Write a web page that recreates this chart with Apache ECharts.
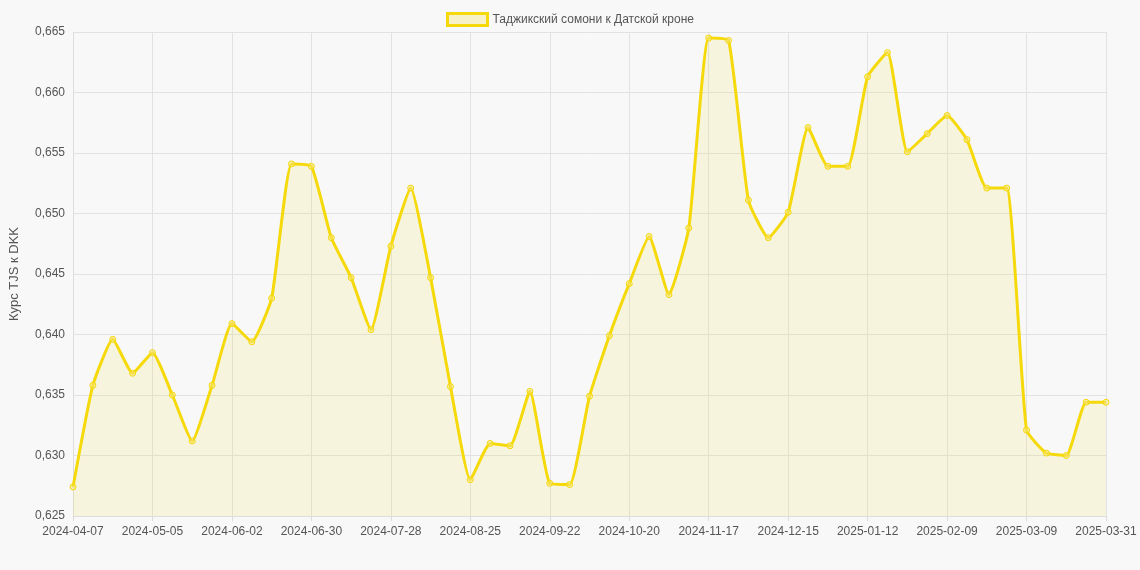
<!DOCTYPE html>
<html>
<head>
<meta charset="utf-8">
<script src="https://cdn.jsdelivr.net/npm/echarts@6/dist/echarts.min.js"></script>
<style>
  html, body { margin: 0; padding: 0; background: #f8f8f8; }
  #chart { width: 1140px; height: 570px; }
</style>
</head>
<body>
<div id="chart"></div>
<script>
const dates = [
  '2024-04-07','2024-04-14','2024-04-21','2024-04-28','2024-05-05','2024-05-12','2024-05-19','2024-05-26',
  '2024-06-02','2024-06-09','2024-06-16','2024-06-23','2024-06-30','2024-07-07','2024-07-14','2024-07-21',
  '2024-07-28','2024-08-04','2024-08-11','2024-08-18','2024-08-25','2024-09-01','2024-09-08','2024-09-15',
  '2024-09-22','2024-09-29','2024-10-06','2024-10-13','2024-10-20','2024-10-27','2024-11-03','2024-11-10',
  '2024-11-17','2024-11-24','2024-12-01','2024-12-08','2024-12-15','2024-12-22','2024-12-29','2025-01-05',
  '2025-01-12','2025-01-19','2025-01-26','2025-02-02','2025-02-09','2025-02-16','2025-02-23','2025-03-02',
  '2025-03-09','2025-03-16','2025-03-23','2025-03-30','2025-03-31'
];
const rates = [
  0.6274, 0.6358, 0.6396, 0.6368, 0.6385, 0.6350, 0.6312, 0.6358,
  0.6409, 0.6394, 0.6430, 0.6541, 0.6539, 0.6480, 0.6447, 0.6404,
  0.6473, 0.6521, 0.6447, 0.6357, 0.6280, 0.6310, 0.6308, 0.6353,
  0.6277, 0.6276, 0.6349, 0.6399, 0.6442, 0.6481, 0.6433, 0.6488,
  0.6645, 0.6643, 0.6511, 0.6480, 0.6501, 0.6571, 0.6539, 0.6539,
  0.6613, 0.6633, 0.6551, 0.6566, 0.6581, 0.6561, 0.6521, 0.6521,
  0.6321, 0.6302, 0.6300, 0.6344, 0.6344
];
const seriesName = 'Таджикский сомони к Датской кроне';

const chart = echarts.init(document.getElementById('chart'));
chart.setOption({
  backgroundColor: '#f8f8f8',
  animation: false,
  textStyle: { fontFamily: 'Liberation Sans, Arial, sans-serif' },
  legend: {
    top: 7,
    itemWidth: 40, itemHeight: 12,
    textStyle: { color: '#555', fontSize: 12 },
    data: [{ name: seriesName, icon: 'rect',
      itemStyle: { color: 'rgba(245,217,10,0.2)', borderColor: '#f5d90a', borderWidth: 3 } }]
  },
  grid: { left: 68, right: 34, top: 32, bottom: 54, containLabel: false },
  xAxis: {
    type: 'category',
    data: dates,
    boundaryGap: false,
    axisLine: { lineStyle: { color: '#ddd' } },
    axisTick: { show: true, interval: 3, lineStyle: { color: '#ddd' } },
    axisLabel: { interval: 3, color: '#555', fontSize: 12, margin: 10 },
    splitLine: { show: true, interval: 3, lineStyle: { color: '#e2e2e2' } }
  },
  yAxis: {
    type: 'value',
    min: 0.625, max: 0.665, interval: 0.005,
    name: 'Курс TJS к DKK',
    nameLocation: 'middle',
    nameGap: 52,
    nameTextStyle: { color: '#555', fontSize: 13 },
    axisLine: { show: true, lineStyle: { color: '#ddd' } },
    axisLabel: { color: '#555', fontSize: 12, formatter: v => v.toFixed(3).replace('.', ',') },
    splitLine: { lineStyle: { color: '#e2e2e2' } }
  },
  series: [{
    name: seriesName,
    type: 'line',
    data: rates,
    smooth: 0.15,
    symbol: 'circle',
    symbolSize: 6,
    lineStyle: { color: '#f5d90a', width: 3 },
    itemStyle: { color: 'rgba(245,230,120,0.5)', borderColor: '#f5d90a', borderWidth: 1 },
    areaStyle: { color: 'rgba(245,217,10,0.15)' }
  }]
});
</script>
</body>
</html>
